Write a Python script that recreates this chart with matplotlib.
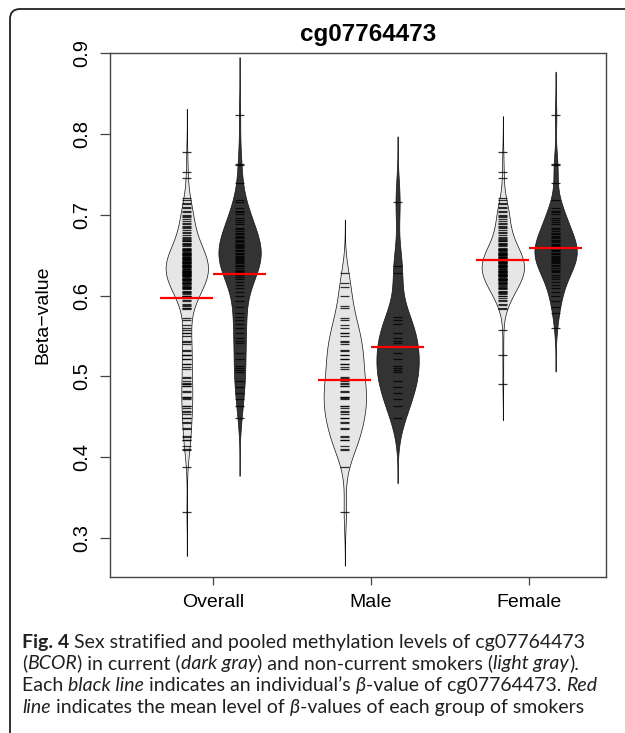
import numpy as np
import matplotlib
matplotlib.use("Agg")
import matplotlib.pyplot as plt
from matplotlib.patches import FancyBboxPatch
from matplotlib.transforms import IdentityTransform

# groups on the x axis
groups = ["Overall", "Male", "Female"]

# beta-values (light = non-current, dark = current smokers)
male_light = [0.628, 0.616, 0.611, 0.599, 0.587, 0.585, 0.572, 0.570, 0.564, 0.560,
              0.554, 0.554, 0.550, 0.544, 0.542, 0.540, 0.533, 0.531, 0.527, 0.526,
              0.522, 0.521, 0.516, 0.515, 0.512, 0.509, 0.499, 0.498, 0.494, 0.492,
              0.491, 0.488, 0.488, 0.482, 0.481, 0.474, 0.474, 0.473, 0.472, 0.464,
              0.464, 0.461, 0.457, 0.456, 0.453, 0.449, 0.449, 0.444, 0.443, 0.436,
              0.435, 0.426, 0.425, 0.422, 0.421, 0.414, 0.410, 0.409, 0.388, 0.332]
male_dark = [0.716, 0.637, 0.628, 0.574, 0.570, 0.565, 0.554, 0.548, 0.544, 0.541,
             0.529, 0.522, 0.513, 0.511, 0.508, 0.505, 0.494, 0.487, 0.480, 0.472,
             0.463, 0.449]
female_light = [0.777, 0.753, 0.745,
                0.721, 0.718, 0.715, 0.713,
                0.710, 0.708, 0.705, 0.703,
                0.700, 0.699, 0.697, 0.695, 0.692, 0.690,
                0.688, 0.686, 0.685, 0.684, 0.681, 0.679,
                0.677, 0.675, 0.673, 0.671, 0.670, 0.669, 0.668, 0.667,
                0.665, 0.664, 0.664, 0.662, 0.661, 0.659, 0.658, 0.658, 0.656, 0.655,
                0.654, 0.653, 0.653, 0.652, 0.651, 0.650, 0.650, 0.649, 0.648, 0.647,
                0.646, 0.645, 0.645, 0.644,
                0.643, 0.642, 0.642, 0.641, 0.640, 0.640, 0.639, 0.638, 0.638, 0.637,
                0.636, 0.635, 0.635, 0.634, 0.633,
                0.632, 0.631, 0.631, 0.630, 0.629, 0.629, 0.628, 0.627, 0.627, 0.626,
                0.626, 0.625, 0.624, 0.623,
                0.622, 0.621, 0.621, 0.620, 0.620, 0.619, 0.618, 0.617, 0.616, 0.616,
                0.615, 0.614, 0.613, 0.612, 0.611, 0.610,
                0.657, 0.652, 0.648, 0.644, 0.641, 0.637, 0.633, 0.629, 0.624, 0.619,
                0.609, 0.608, 0.606, 0.605, 0.604, 0.603, 0.602, 0.600, 0.599,
                0.597, 0.595, 0.593, 0.590, 0.588, 0.585, 0.583,
                0.557, 0.526, 0.491]
female_dark = [0.823, 0.763, 0.761, 0.739, 0.718,
               0.708, 0.705, 0.703, 0.701,
               0.696, 0.694, 0.691, 0.689, 0.684,
               0.682, 0.680, 0.678, 0.676, 0.674, 0.672, 0.671,
               0.669, 0.667, 0.666, 0.664, 0.663, 0.661, 0.660, 0.659,
               0.657, 0.656, 0.655, 0.653, 0.652, 0.651, 0.649, 0.648,
               0.646, 0.645, 0.644, 0.643, 0.642, 0.640, 0.638, 0.636,
               0.634, 0.632, 0.631, 0.629, 0.626, 0.623, 0.620,
               0.617, 0.613, 0.609, 0.604, 0.599, 0.593,
               0.586, 0.579, 0.560]
overall_light = male_light + female_light
overall_dark = male_dark + female_dark

light_sets = [overall_light, male_light, female_light]
dark_sets = [overall_dark, male_dark, female_dark]

# kernel bandwidths per bean (how far the thin tails reach)
bw_light = [0.018, 0.022, 0.015]
bw_dark = [0.024, 0.027, 0.018]

LIGHT = "#e6e6e6"
DARK = "#333333"


def kde(vals, bw, n=500):
    v = np.asarray(vals)
    y = np.linspace(v.min() - 3 * bw, v.max() + 3 * bw, n)
    d = np.exp(-0.5 * ((y[:, None] - v[None, :]) / bw) ** 2).sum(axis=1)
    return y, d / d.max()


def bean(ax, center, vals, bw, face):
    y, d = kde(vals, bw)
    w = d * 0.134
    ax.fill_betweenx(y, center - w, center + w, facecolor=face,
                     edgecolor="#111111", linewidth=0.5, zorder=2)
    ax.hlines(vals, center - 0.029, center + 0.029, colors="black",
              linewidth=0.9, alpha=0.8, zorder=3)
    ax.hlines(np.mean(vals), center - 0.168, center + 0.168, colors="red",
              linewidth=1.6, zorder=4)


fig = plt.figure(figsize=(6.25, 7.33), dpi=100)
ax = fig.add_axes([110 / 625, 1 - 577 / 733, 496 / 625, 524 / 733])

pos = np.arange(1, len(groups) + 1)
for i, p in enumerate(pos):
    bean(ax, p - 0.166, light_sets[i], bw_light[i], LIGHT)
    bean(ax, p + 0.168, dark_sets[i], bw_dark[i], DARK)

ax.set_xlim(0.348, 3.487)
ax.set_ylim(0.252, 0.9)
ax.set_xticks(pos)
ax.set_xticklabels(groups, fontsize=14, family="Liberation Sans")
ax.set_yticks([0.3, 0.4, 0.5, 0.6, 0.7, 0.8, 0.9])
ax.set_yticklabels(["0.3", "0.4", "0.5", "0.6", "0.7", "0.8", "0.9"],
                   fontsize=14.5, family="Liberation Sans")
for lbl in ax.get_yticklabels():
    lbl.set_rotation(90)
    lbl.set_va("center")
ax.tick_params(axis="y", length=7.2, width=0.9, color="#444444", pad=6)
ax.tick_params(axis="x", length=6, width=0.9, color="#444444", pad=6)
for s in ax.spines.values():
    s.set_color("#444444")
    s.set_linewidth(1.0)

fig.text(43 / 625, 1 - 315 / 733, "Beta\u2212value", rotation=90, ha="center",
         va="center", fontsize=14, family="Liberation Sans")
fig.text(368 / 625, 1 - 35 / 733, "cg07764473", ha="center", va="center",
         fontsize=17.5, fontweight="bold", family="Liberation Sans")

# outer frame of the figure panel
frame = FancyBboxPatch((10, -60), 700, 733 - 9 + 60,
                       boxstyle="round,pad=0,rounding_size=10",
                       transform=IdentityTransform(), fill=False,
                       edgecolor="#222222", linewidth=1.3)
fig.patches.append(frame)

# caption with mixed styles
cap_font = ["Lato", "DejaVu Sans"]
cap_size = 14.0
cap_color = "#231f20"
N = {}
B = {"fontweight": "bold"}
I = {"style": "italic"}
caption = [
    [("Fig. 4", B), (" Sex stratified and pooled methylation levels of cg07764473", N)],
    [("(", N), ("BCOR", I), (") in current (", N), ("dark gray", I),
     (") and non-current smokers (", N), ("light gray", I), (").", N)],
    [("Each ", N), ("black line", I), (" indicates an individual\u2019s ", N), ("\u03b2", I),
     ("-value of cg07764473. ", N), ("Red", I)],
    [("line", I), (" indicates the mean level of ", N), ("\u03b2", I),
     ("-values of each group of smokers", N)],
]
baselines = [648, 669, 691, 713]

fig.canvas.draw()
renderer = fig.canvas.get_renderer()


def run_width(txt, kw):
    a = fig.text(0, 0, txt + "|", fontsize=cap_size, family=cap_font, **kw)
    b = fig.text(0, 0, "|", fontsize=cap_size, family=cap_font, **kw)
    w = a.get_window_extent(renderer).width - b.get_window_extent(renderer).width
    a.remove()
    b.remove()
    return w


for line, yb in zip(caption, baselines):
    x = 22.0
    for txt, kw in line:
        fig.text(x / 625, 1 - yb / 733, txt, fontsize=cap_size, family=cap_font,
                 color=cap_color, va="baseline", ha="left", **kw)
        x += run_width(txt, kw)

fig.savefig("out.png", dpi=100)
